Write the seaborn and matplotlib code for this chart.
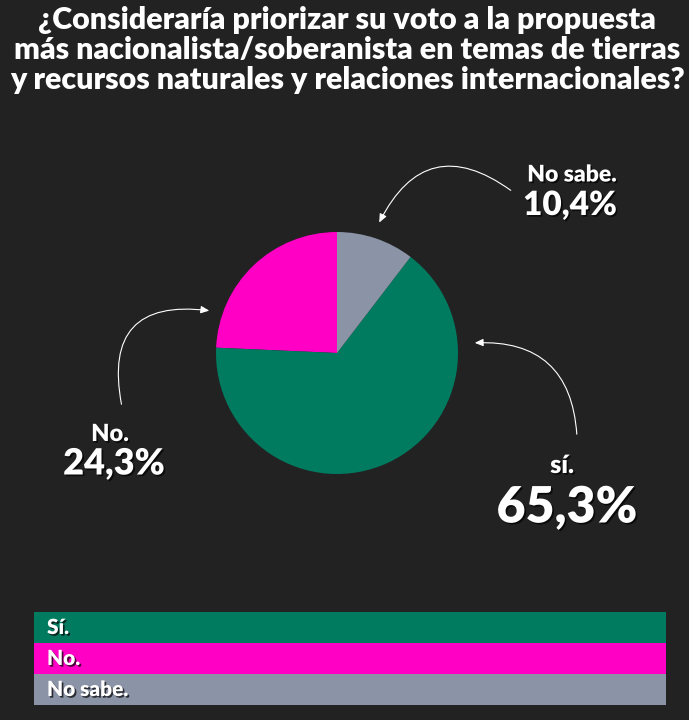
import matplotlib
matplotlib.use("Agg")
import matplotlib.pyplot as plt
import matplotlib.patheffects as pe
from matplotlib.patches import Rectangle, FancyArrowPatch
import seaborn as sns

# ---- data ----
categories = ["Sí.", "No.", "No sabe."]
values = [65.3, 24.3, 10.4]
value_labels = ["65,3%", "24,3%", "10,4%"]
chart_labels = ["sí.", "No.", "No sabe."]
colors = ["#007b5f", "#ff00c4", "#8b93a7"]
title = ("¿Consideraría priorizar su voto a la propuesta\n"
         "más nacionalista/soberanista en temas de tierras\n"
         "y recursos naturales y relaciones internacionales?")

BG = "#222222"
sns.set_theme(style="dark", rc={"figure.facecolor": BG, "axes.facecolor": BG,
                                "savefig.facecolor": BG})
plt.rcParams["font.family"] = ["Lato", "DejaVu Sans"]

W, H = 689, 720
fig = plt.figure(figsize=(W / 100, H / 100), dpi=100)


def fx(x):
    return x / W


def fy(y):
    return 1 - y / H


shadow = [pe.SimplePatchShadow(offset=(1.2, -1.2), shadow_rgbFace="black", alpha=0.7),
          pe.Normal()]

# title
fig.text(fx(347), fy(50), title, ha="center", va="center", color="white",
         fontsize=21.9, fontweight="heavy", linespacing=1.1)

# pie: counterclockwise from top -> No., Sí., No sabe.
cx, cy, r = 337, 353, 121
ax = fig.add_axes([fx(cx - r), fy(cy + r), 2 * r / W, 2 * r / H])
order = [1, 0, 2]
ax.pie([values[i] for i in order], colors=[colors[i] for i in order],
       startangle=90, counterclock=True, radius=1,
       wedgeprops=dict(linewidth=0))
ax.set_xlim(-1, 1)
ax.set_ylim(-1, 1)
ax.set_aspect("equal")
ax.axis("off")

# labels
lab_pos = {
    0: ((562, 466), (567, 508), 18, 36),
    1: ((110, 434), (114, 464), 17, 26),
    2: ((572, 175), (570, 205), 16.5, 24),
}
for i, ((lx, ly), (vx, vy), s1, s2) in lab_pos.items():
    fig.text(fx(lx), fy(ly), chart_labels[i], ha="center", va="center",
             color="white", fontsize=s1, fontweight="heavy", path_effects=shadow)
    fig.text(fx(vx), fy(vy), value_labels[i], ha="center", va="center",
             color="white", fontsize=s2, fontweight="heavy", path_effects=shadow)

# arrows
arrows = [((577, 437), (472, 343), 0.5),
          ((122, 407), (212, 311), -0.7),
          ((513, 192), (378, 225), 0.6)]
for (x1, y1), (x2, y2), rad in arrows:
    a = FancyArrowPatch((fx(x1), fy(y1)), (fx(x2), fy(y2)),
                        transform=fig.transFigure,
                        connectionstyle=f"arc3,rad={rad}",
                        arrowstyle="-|>,head_length=5,head_width=2.2",
                        color="white", lw=0.8, mutation_scale=1)
    fig.patches.append(a)

# legend bars
top, bh = 612, 31
for k, (cat, col) in enumerate(zip(categories, colors)):
    y0 = top + k * bh
    fig.patches.append(Rectangle((fx(34), fy(y0 + bh)), fx(666) - fx(34), bh / H,
                                 transform=fig.transFigure, facecolor=col,
                                 edgecolor="none"))
    fig.text(fx(47), fy(y0 + bh / 2), cat, ha="left", va="center", color="white",
             fontsize=15, fontweight="heavy", path_effects=shadow)

fig.savefig("out.png", dpi=100, facecolor=BG)
